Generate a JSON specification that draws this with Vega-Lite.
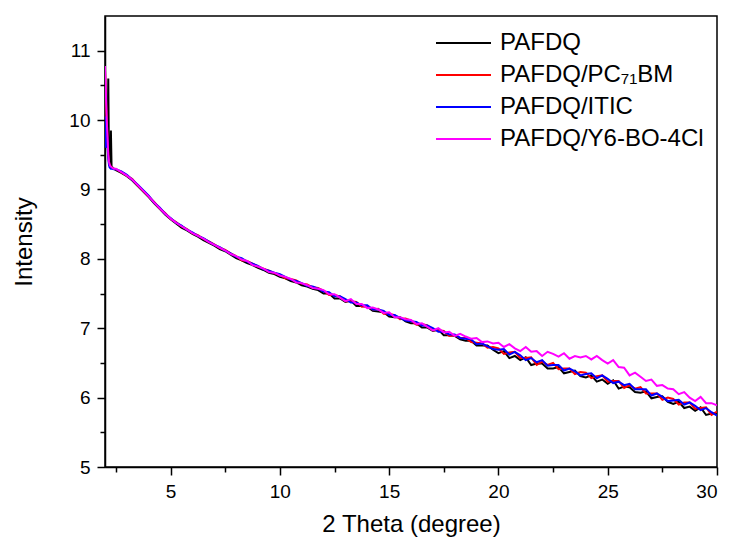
{
  "$schema": "https://vega.github.io/schema/vega-lite/v6.json",
  "width": 612,
  "height": 451,
  "autosize": {"type": "none"},
  "padding": {"left": 105, "top": 16, "right": 14, "bottom": 73},
  "background": "white",
  "config": {
    "font": "Liberation Sans",
    "view": {"stroke": "black", "strokeWidth": 1.5},
    "axis": {
      "grid": false,
      "domainColor": "black",
      "domainWidth": 1.5,
      "tickColor": "black",
      "tickWidth": 1.5,
      "tickSize": 8,
      "labelColor": "black",
      "labelFontSize": 19,
      "labelPadding": 7,
      "titleColor": "black",
      "titleFontSize": 24,
      "titleFontWeight": "normal"
    }
  },
  "data": {
    "values": [
      {"x": 2.0, "a": 9.9, "b": 10.72, "c": 10.05, "d": 10.78},
      {"x": 2.04, "a": 9.95, "b": 10.35, "c": 9.6, "d": 10.4},
      {"x": 2.08, "a": 9.75, "b": 10.0, "c": 9.9, "d": 10.0},
      {"x": 2.12, "a": 9.6, "b": 9.7, "c": 9.6, "d": 9.7},
      {"x": 2.15, "a": 10.6, "b": 9.5, "c": 9.45, "d": 9.5},
      {"x": 2.18, "a": 9.45, "b": 9.4, "c": 9.36, "d": 9.4},
      {"x": 2.21, "a": 9.38, "b": 9.35, "c": 9.32, "d": 9.36},
      {"x": 2.24, "a": 9.36, "b": 9.34, "c": 9.31, "d": 9.34},
      {"x": 2.27, "a": 9.85, "b": 9.33, "c": 9.3, "d": 9.33},
      {"x": 2.3, "a": 9.33, "b": 9.32, "c": 9.3, "d": 9.32},
      {"x": 2.4, "a": 9.3, "b": 9.3, "c": 9.29, "d": 9.3},
      {"x": 2.5, "a": 9.28, "b": 9.29, "c": 9.29, "d": 9.3},
      {"x": 2.75, "a": 9.24, "b": 9.25, "c": 9.26, "d": 9.25},
      {"x": 3.0, "a": 9.19, "b": 9.2, "c": 9.21, "d": 9.2},
      {"x": 3.25, "a": 9.13, "b": 9.15, "c": 9.14, "d": 9.14},
      {"x": 3.5, "a": 9.05, "b": 9.06, "c": 9.07, "d": 9.06},
      {"x": 3.75, "a": 8.97, "b": 8.98, "c": 8.99, "d": 8.98},
      {"x": 4.0, "a": 8.89, "b": 8.9, "c": 8.91, "d": 8.9},
      {"x": 4.25, "a": 8.8, "b": 8.82, "c": 8.81, "d": 8.81},
      {"x": 4.5, "a": 8.72, "b": 8.73, "c": 8.74, "d": 8.73},
      {"x": 4.75, "a": 8.64, "b": 8.66, "c": 8.65, "d": 8.65},
      {"x": 5.0, "a": 8.57, "b": 8.58, "c": 8.59, "d": 8.58},
      {"x": 5.25, "a": 8.51, "b": 8.53, "c": 8.52, "d": 8.52},
      {"x": 5.5, "a": 8.45, "b": 8.47, "c": 8.48, "d": 8.47},
      {"x": 5.75, "a": 8.41, "b": 8.43, "c": 8.42, "d": 8.42},
      {"x": 6.0, "a": 8.36, "b": 8.37, "c": 8.38, "d": 8.37},
      {"x": 6.25, "a": 8.32, "b": 8.34, "c": 8.33, "d": 8.33},
      {"x": 6.5, "a": 8.27, "b": 8.29, "c": 8.3, "d": 8.29},
      {"x": 6.75, "a": 8.23, "b": 8.25, "c": 8.25, "d": 8.24},
      {"x": 7.0, "a": 8.19, "b": 8.21, "c": 8.2, "d": 8.2},
      {"x": 7.25, "a": 8.14, "b": 8.16, "c": 8.17, "d": 8.16},
      {"x": 7.5, "a": 8.11, "b": 8.13, "c": 8.12, "d": 8.12},
      {"x": 7.75, "a": 8.06, "b": 8.08, "c": 8.08, "d": 8.07},
      {"x": 8.0, "a": 8.01, "b": 8.04, "c": 8.03, "d": 8.04},
      {"x": 8.25, "a": 7.98, "b": 7.98, "c": 8.01, "d": 7.99},
      {"x": 8.5, "a": 7.94, "b": 7.97, "c": 7.96, "d": 7.97},
      {"x": 8.75, "a": 7.91, "b": 7.93, "c": 7.93, "d": 7.91},
      {"x": 9.0, "a": 7.87, "b": 7.89, "c": 7.9, "d": 7.89},
      {"x": 9.25, "a": 7.84, "b": 7.86, "c": 7.85, "d": 7.86},
      {"x": 9.5, "a": 7.8, "b": 7.83, "c": 7.83, "d": 7.81},
      {"x": 9.75, "a": 7.78, "b": 7.79, "c": 7.8, "d": 7.8},
      {"x": 10.0, "a": 7.74, "b": 7.77, "c": 7.78, "d": 7.76},
      {"x": 10.25, "a": 7.72, "b": 7.72, "c": 7.74, "d": 7.74},
      {"x": 10.5, "a": 7.68, "b": 7.71, "c": 7.7, "d": 7.71},
      {"x": 10.75, "a": 7.66, "b": 7.69, "c": 7.68, "d": 7.66},
      {"x": 11.0, "a": 7.62, "b": 7.64, "c": 7.65, "d": 7.65},
      {"x": 11.25, "a": 7.6, "b": 7.63, "c": 7.61, "d": 7.62},
      {"x": 11.5, "a": 7.57, "b": 7.59, "c": 7.6, "d": 7.58},
      {"x": 11.75, "a": 7.55, "b": 7.58, "c": 7.57, "d": 7.57},
      {"x": 12.0, "a": 7.5, "b": 7.54, "c": 7.53, "d": 7.55},
      {"x": 12.25, "a": 7.5, "b": 7.48, "c": 7.52, "d": 7.49},
      {"x": 12.5, "a": 7.43, "b": 7.48, "c": 7.46, "d": 7.49},
      {"x": 12.75, "a": 7.43, "b": 7.46, "c": 7.46, "d": 7.44},
      {"x": 13.0, "a": 7.38, "b": 7.39, "c": 7.42, "d": 7.39},
      {"x": 13.25, "a": 7.4, "b": 7.39, "c": 7.37, "d": 7.42},
      {"x": 13.5, "a": 7.32, "b": 7.38, "c": 7.37, "d": 7.35},
      {"x": 13.75, "a": 7.32, "b": 7.31, "c": 7.33, "d": 7.35},
      {"x": 14.0, "a": 7.31, "b": 7.32, "c": 7.33, "d": 7.29},
      {"x": 14.25, "a": 7.25, "b": 7.27, "c": 7.27, "d": 7.3},
      {"x": 14.5, "a": 7.24, "b": 7.28, "c": 7.27, "d": 7.27},
      {"x": 14.75, "a": 7.23, "b": 7.21, "c": 7.25, "d": 7.22},
      {"x": 15.0, "a": 7.17, "b": 7.21, "c": 7.19, "d": 7.23},
      {"x": 15.25, "a": 7.16, "b": 7.19, "c": 7.19, "d": 7.16},
      {"x": 15.5, "a": 7.16, "b": 7.13, "c": 7.15, "d": 7.16},
      {"x": 15.75, "a": 7.1, "b": 7.14, "c": 7.11, "d": 7.13},
      {"x": 16.0, "a": 7.07, "b": 7.11, "c": 7.1, "d": 7.12},
      {"x": 16.25, "a": 7.07, "b": 7.05, "c": 7.09, "d": 7.06},
      {"x": 16.5, "a": 7.01, "b": 7.06, "c": 7.04, "d": 7.07},
      {"x": 16.75, "a": 7.01, "b": 7.04, "c": 7.04, "d": 7.02},
      {"x": 17.0, "a": 6.96, "b": 6.97, "c": 7.0, "d": 6.97},
      {"x": 17.25, "a": 6.98, "b": 6.97, "c": 6.95, "d": 7.0},
      {"x": 17.5, "a": 6.9, "b": 6.96, "c": 6.95, "d": 6.94},
      {"x": 17.75, "a": 6.9, "b": 6.89, "c": 6.91, "d": 6.95},
      {"x": 18.0, "a": 6.89, "b": 6.9, "c": 6.91, "d": 6.89},
      {"x": 18.25, "a": 6.84, "b": 6.86, "c": 6.86, "d": 6.92},
      {"x": 18.5, "a": 6.82, "b": 6.86, "c": 6.85, "d": 6.88},
      {"x": 18.75, "a": 6.82, "b": 6.8, "c": 6.84, "d": 6.85},
      {"x": 19.0, "a": 6.75, "b": 6.79, "c": 6.77, "d": 6.86},
      {"x": 19.25, "a": 6.75, "b": 6.78, "c": 6.78, "d": 6.8},
      {"x": 19.5, "a": 6.75, "b": 6.72, "c": 6.74, "d": 6.81},
      {"x": 19.75, "a": 6.69, "b": 6.73, "c": 6.7, "d": 6.78},
      {"x": 20.0, "a": 6.64, "b": 6.71, "c": 6.69, "d": 6.79},
      {"x": 20.25, "a": 6.67, "b": 6.63, "c": 6.7, "d": 6.73},
      {"x": 20.5, "a": 6.57, "b": 6.65, "c": 6.62, "d": 6.77},
      {"x": 20.75, "a": 6.6, "b": 6.66, "c": 6.66, "d": 6.71},
      {"x": 21.0, "a": 6.54, "b": 6.57, "c": 6.61, "d": 6.67},
      {"x": 21.25, "a": 6.58, "b": 6.57, "c": 6.54, "d": 6.73},
      {"x": 21.5, "a": 6.47, "b": 6.58, "c": 6.57, "d": 6.66},
      {"x": 21.75, "a": 6.49, "b": 6.47, "c": 6.51, "d": 6.67},
      {"x": 22.0, "a": 6.49, "b": 6.52, "c": 6.54, "d": 6.6},
      {"x": 22.25, "a": 6.42, "b": 6.47, "c": 6.46, "d": 6.66},
      {"x": 22.5, "a": 6.42, "b": 6.5, "c": 6.47, "d": 6.63},
      {"x": 22.75, "a": 6.44, "b": 6.41, "c": 6.47, "d": 6.59},
      {"x": 23.0, "a": 6.35, "b": 6.42, "c": 6.39, "d": 6.64},
      {"x": 23.25, "a": 6.37, "b": 6.42, "c": 6.42, "d": 6.56},
      {"x": 23.5, "a": 6.39, "b": 6.34, "c": 6.38, "d": 6.6},
      {"x": 23.75, "a": 6.31, "b": 6.37, "c": 6.32, "d": 6.58},
      {"x": 24.0, "a": 6.29, "b": 6.36, "c": 6.34, "d": 6.6},
      {"x": 24.25, "a": 6.32, "b": 6.28, "c": 6.35, "d": 6.55},
      {"x": 24.5, "a": 6.23, "b": 6.31, "c": 6.28, "d": 6.6},
      {"x": 24.75, "a": 6.26, "b": 6.32, "c": 6.32, "d": 6.54},
      {"x": 25.0, "a": 6.2, "b": 6.23, "c": 6.27, "d": 6.49},
      {"x": 25.25, "a": 6.25, "b": 6.24, "c": 6.21, "d": 6.54},
      {"x": 25.5, "a": 6.13, "b": 6.24, "c": 6.23, "d": 6.44},
      {"x": 25.75, "a": 6.16, "b": 6.14, "c": 6.18, "d": 6.43},
      {"x": 26.0, "a": 6.15, "b": 6.18, "c": 6.2, "d": 6.32},
      {"x": 26.25, "a": 6.08, "b": 6.13, "c": 6.12, "d": 6.36},
      {"x": 26.5, "a": 6.07, "b": 6.15, "c": 6.12, "d": 6.3},
      {"x": 26.75, "a": 6.09, "b": 6.06, "c": 6.12, "d": 6.24},
      {"x": 27.0, "a": 5.99, "b": 6.06, "c": 6.03, "d": 6.26},
      {"x": 27.25, "a": 6.01, "b": 6.06, "c": 6.06, "d": 6.17},
      {"x": 27.5, "a": 6.02, "b": 5.97, "c": 6.01, "d": 6.18},
      {"x": 27.75, "a": 5.94, "b": 6.0, "c": 5.95, "d": 6.13},
      {"x": 28.0, "a": 5.91, "b": 5.98, "c": 5.96, "d": 6.12},
      {"x": 28.25, "a": 5.94, "b": 5.9, "c": 5.97, "d": 6.05},
      {"x": 28.5, "a": 5.85, "b": 5.93, "c": 5.9, "d": 6.08},
      {"x": 28.75, "a": 5.87, "b": 5.93, "c": 5.93, "d": 6.0},
      {"x": 29.0, "a": 5.81, "b": 5.84, "c": 5.88, "d": 5.95},
      {"x": 29.25, "a": 5.86, "b": 5.85, "c": 5.82, "d": 6.01},
      {"x": 29.5, "a": 5.75, "b": 5.86, "c": 5.85, "d": 5.92},
      {"x": 29.75, "a": 5.77, "b": 5.75, "c": 5.79, "d": 5.92},
      {"x": 30.0, "a": 5.77, "b": 5.8, "c": 5.74, "d": 5.89}
    ]
  },
  "transform": [{"fold": ["a", "b", "c", "d"], "as": ["s", "y"]}],
  "layer": [
    {
      "transform": [{"filter": "datum.s != 'd'"}],
      "mark": {"type": "line", "strokeWidth": 2, "clip": true},
      "encoding": {
        "x": {
          "field": "x", "type": "quantitative",
          "scale": {"domain": [2, 30], "nice": false, "zero": false},
          "axis": {"orient": "bottom", "values": [5, 10, 15, 20, 25, 30], "title": "2 Theta (degree)", "titleBaseline": "alphabetic", "titleY": 64}
        },
        "y": {
          "field": "y", "type": "quantitative",
          "scale": {"domain": [5, 11.5], "nice": false, "zero": false},
          "axis": {"orient": "left", "values": [5, 6, 7, 8, 9, 10, 11], "title": "Intensity", "titleBaseline": "alphabetic", "titleX": -74}
        },
        "color": {
          "field": "s", "type": "nominal",
          "scale": {"domain": ["a", "b", "c", "d"], "range": ["#000000", "#ff0000", "#0000ff", "#ff00ff"]},
          "legend": {
            "orient": "none", "legendX": 330, "legendY": 15, "title": null,
            "labelFontSize": 24, "labelColor": "black", "labelOffset": 8, "labelLimit": 400,
            "symbolType": "stroke", "symbolSize": 3025, "symbolStrokeWidth": 2,
            "clipHeight": 24, "rowPadding": 8, "padding": 0,
            "labelExpr": "datum.value == 'a' ? 'PAFDQ' : datum.value == 'b' ? 'PAFDQ/PC₇₁BM' : datum.value == 'c' ? 'PAFDQ/ITIC' : 'PAFDQ/Y6-BO-4Cl'"
          }
        },
        "detail": {"field": "s"}
      }
    },
    {
      "transform": [{"filter": "datum.s == 'd'"}],
      "mark": {"type": "line", "strokeWidth": 2, "clip": true},
      "encoding": {
        "x": {
          "field": "x", "type": "quantitative",
          "axis": {"orient": "bottom", "values": [2.5, 7.5, 12.5, 17.5, 22.5, 27.5], "labels": false, "tickSize": 5, "domain": false, "title": null}
        },
        "y": {
          "field": "y", "type": "quantitative",
          "axis": {"orient": "left", "values": [5.5, 6.5, 7.5, 8.5, 9.5, 10.5], "labels": false, "tickSize": 5, "domain": false, "title": null}
        },
        "color": {"field": "s", "type": "nominal", "legend": null}
      }
    }
  ],
  "resolve": {"axis": {"x": "independent", "y": "independent"}}
}
